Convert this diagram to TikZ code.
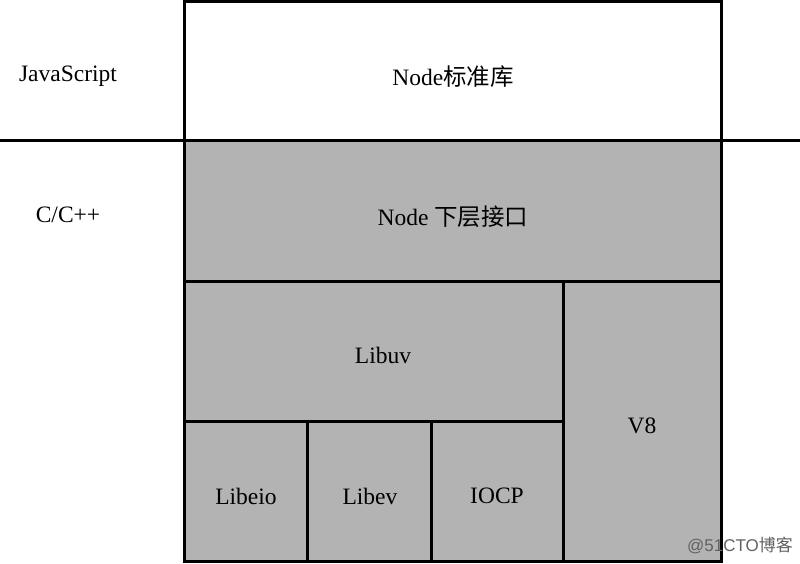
\documentclass[tikz,border=0pt]{standalone}
\usepackage{fontspec}
\setmainfont{Liberation Serif}
\newfontfamily\cjk{Noto Sans CJK SC}
\newfontfamily\wmfont{Liberation Sans}
\definecolor{boxgray}{RGB}{179,179,179}
\begin{document}
\begin{tikzpicture}[x=1pt,y=-1pt,
  blk/.style={draw=black,line width=3pt,fill=boxgray},
  wblk/.style={draw=black,line width=3pt,fill=white},
  lbl/.style={font=\fontsize{23.5}{25}\selectfont,inner sep=0pt},
  wm/.style={font=\wmfont\fontsize{17}{19}\selectfont,text=black!62,inner sep=0pt}]
\useasboundingbox (0,0) rectangle (800,564);
% boxes
\draw[wblk] (184,1.5) rectangle (721,141);
\draw[blk] (184,141) rectangle (721,281);
\draw[blk] (184,281) rectangle (563,421);
\draw[blk] (563,281) rectangle (721,561.5);
\draw[blk] (184,421) rectangle (307.5,561.5);
\draw[blk] (307.5,421) rectangle (431,561.5);
\draw[blk] (431,421) rectangle (563,561.5);
% separator line
\coordinate (sepL) at (0,141);
\coordinate (sepR) at (800,141);
\draw[line width=3pt] (sepL) -- (184,141);
\draw[line width=3pt] (721,141) -- (sepR);
% labels
\node[lbl] (js) at (68,76) {JavaScript};
\node[lbl] (cc) at (68,215) {C/C++};
\node[lbl] (std) at (453,77) {Node{\cjk 标准库}};
\node[lbl] (low) at (453,217) {Node {\cjk 下层接口}};
\node[lbl] (uv) at (383,355) {Libuv};
\node[lbl] (v8) at (642,426) {V8};
\node[lbl] (eio) at (246,496) {Libeio};
\node[lbl] (ev) at (370,496) {Libev};
\node[lbl] (iocp) at (497,496) {IOCP};
\node[wm] (mark) at (740,545) {@51CTO{\cjk 博客}};
\end{tikzpicture}
\end{document}
